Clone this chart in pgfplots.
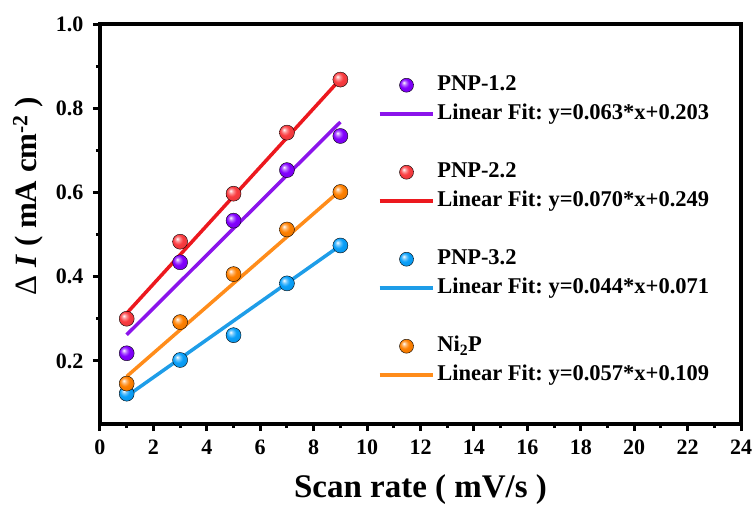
\documentclass[border=0pt]{standalone}
\usepackage{pgfplots}
\pgfplotsset{compat=1.18}
\usepackage{fontspec}
\setmainfont{Liberation Serif}
\frenchspacing
\definecolor{cpur}{RGB}{130,0,255}
\definecolor{cpurL}{RGB}{139,20,235}
\definecolor{cred}{RGB}{250,60,64}
\definecolor{credL}{RGB}{236,24,30}
\definecolor{cblu}{RGB}{10,160,250}
\definecolor{cbluL}{RGB}{30,157,232}
\definecolor{cora}{RGB}{255,128,0}
\definecolor{coraL}{RGB}{255,140,26}
\makeatletter
\pgfdeclareradialshading[tikz@ball]{ball}{\pgfqpoint{-10bp}{10bp}}{%
  color(0bp)=(tikz@ball!0!white); color(7bp)=(tikz@ball!55!white);
  color(16bp)=(tikz@ball); color(30bp)=(tikz@ball!92!black);
  color(50bp)=(tikz@ball!75!black)}
\makeatother
\pgfplotsset{
  ballleg/.style={legend image code/.code={\draw[only marks,##1] plot coordinates {(27pt,0pt)};}},
  lineleg/.style={legend image code/.code={\draw[##1] (0pt,0pt) -- (53pt,0pt);}},
}
\begin{document}
\begin{tikzpicture}
\useasboundingbox (-100pt,-80pt) rectangle (655pt,424pt);
\begin{axis}[
  at={(0pt,0pt)}, anchor=south west,
  scale only axis, width=641pt, height=400pt,
  xmin=0, xmax=24, ymin=0.05, ymax=1.0,
  xtick={0,2,...,24}, ytick={0.2,0.4,0.6,0.8,1.0},
  minor x tick num=1, minor y tick num=1,
  axis line style={line width=3.5pt},
  every tick/.style={line width=3pt, black},
  tick align=outside,
  xtick pos=bottom, ytick pos=left,
  major tick length=7pt, minor tick length=4pt,
  /pgf/number format/assume math mode=true,
  tick label style={font=\fontsize{22}{22}\selectfont\bfseries},
  xticklabel style={yshift=-5pt},
  yticklabel style={xshift=-6pt, /pgf/number format/.cd, fixed, fixed zerofill, precision=1},
  xlabel={Scan rate ( mV/s )},
  ylabel={{\mdseries Δ} \textit{I} ( mA cm\textsuperscript{-2} )},
  xlabel style={font=\fontsize{33}{33}\selectfont\bfseries, yshift=-13pt},
  ylabel style={font=\fontsize{31}{31}\selectfont\bfseries, at={(ticklabel cs:0.57)}, yshift=6pt},
  legend style={draw=none, fill=none, at={(axis cs:10.4,0.889)}, anchor=north west,
    inner sep=0pt, outer sep=0pt, row sep=0pt,
    nodes={inner sep=3pt, text height=17pt, text depth=6pt, font=\fontsize{22.5}{22.5}\selectfont\bfseries},
    cells={anchor=west}},
]
% fit lines (endpoints)
\addplot[forget plot, color=cpurL, line width=3.5pt] coordinates {(1,0.262) (9,0.767)};
\addplot[forget plot, color=credL, line width=3.5pt] coordinates {(1,0.313) (9,0.869)};
\addplot[forget plot, color=cbluL, line width=3.5pt] coordinates {(1,0.116) (9,0.474)};
\addplot[forget plot, color=coraL, line width=3.5pt] coordinates {(1,0.163) (9,0.605)};
% data points
\addplot[forget plot, only marks, mark=ball, mark size=7.5pt, ball color=cpur] coordinates {(1,0.218) (3,0.434) (5,0.533) (7,0.653) (9,0.734)};
\addplot[forget plot, only marks, mark=ball, mark size=7.5pt, ball color=cred] coordinates {(1,0.300) (3,0.483) (5,0.597) (7,0.742) (9,0.868)};
\addplot[forget plot, only marks, mark=ball, mark size=7.5pt, ball color=cblu] coordinates {(1,0.122) (3,0.202) (5,0.261) (7,0.384) (9,0.474)};
\addplot[forget plot, only marks, mark=ball, mark size=7.5pt, ball color=cora] coordinates {(1,0.146) (3,0.292) (5,0.406) (7,0.512) (9,0.601)};
% legend
\addlegendimage{ballleg, mark=ball, mark size=7pt, ball color=cpur}
\addlegendentry{PNP-1.2}
\addlegendimage{lineleg, color=cpurL, line width=3.5pt}
\addlegendentry{Linear Fit: y=0.063*x+0.203}
\addlegendimage{empty legend}
\addlegendentry{}
\addlegendimage{ballleg, mark=ball, mark size=7pt, ball color=cred}
\addlegendentry{PNP-2.2}
\addlegendimage{lineleg, color=credL, line width=3.5pt}
\addlegendentry{Linear Fit: y=0.070*x+0.249}
\addlegendimage{empty legend}
\addlegendentry{}
\addlegendimage{ballleg, mark=ball, mark size=7pt, ball color=cblu}
\addlegendentry{PNP-3.2}
\addlegendimage{lineleg, color=cbluL, line width=3.5pt}
\addlegendentry{Linear Fit: y=0.044*x+0.071}
\addlegendimage{empty legend}
\addlegendentry{}
\addlegendimage{ballleg, mark=ball, mark size=7pt, ball color=cora}
\addlegendentry{Ni\textsubscript{2}P}
\addlegendimage{lineleg, color=coraL, line width=3.5pt}
\addlegendentry{Linear Fit: y=0.057*x+0.109}
\end{axis}
\end{tikzpicture}
\end{document}
